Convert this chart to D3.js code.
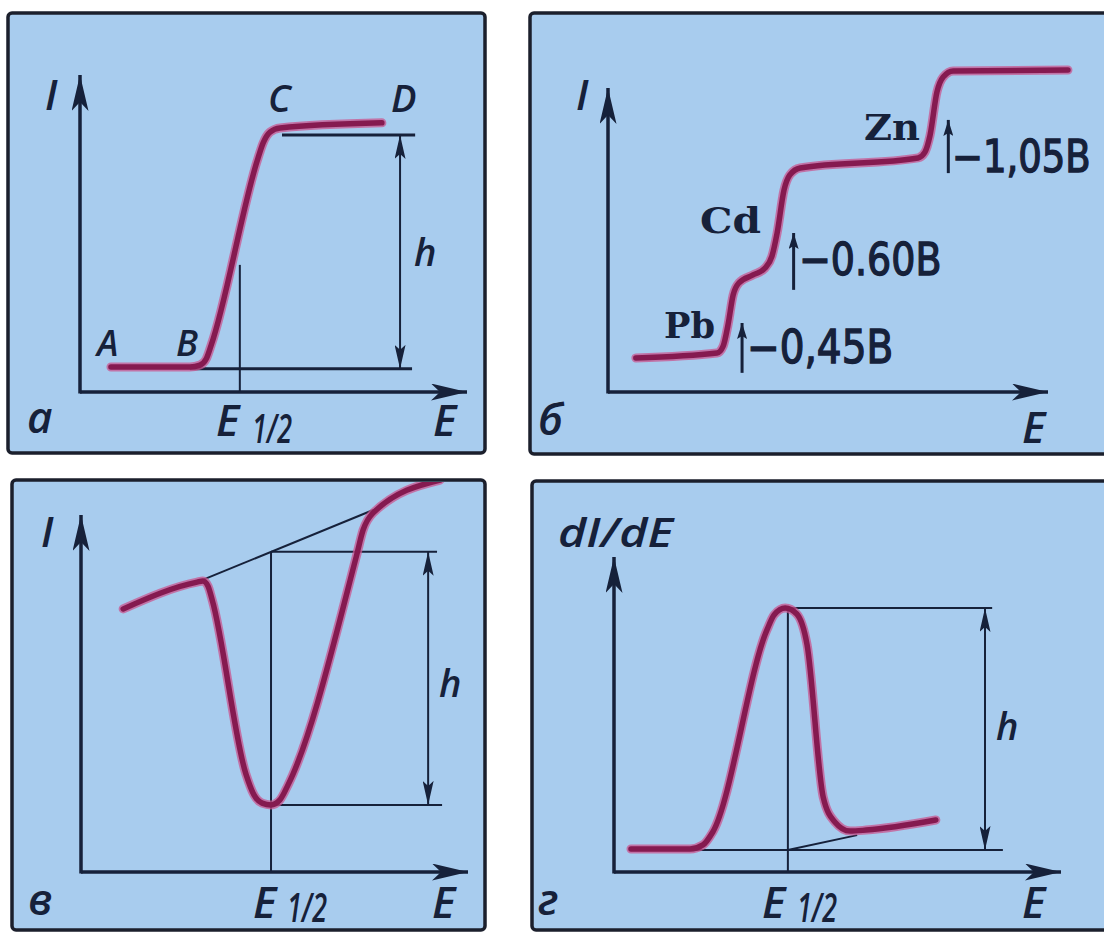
<!DOCTYPE html>
<html>
<head>
<meta charset="utf-8">
<script src="https://cdn.jsdelivr.net/npm/d3@7"></script>
<style>
  html, body { margin: 0; padding: 0; background: #ffffff; }
  svg { display: block; }
</style>
</head>
<body>
<svg id="fig" width="1104" height="935"></svg>
<script>
// ---------- а: polarographic wave A–B–C–D ----------
const waveE = [8.0, 28.4, 31.0, 32.6, 33.9, 46.0, 47.3, 49.1, 51.7, 78.0];
const waveI = [7.9, 7.9, 8.5, 10.4, 14.8, 73.8, 78.5, 82.0, 83.3, 84.9];
const waveLevels = [7.3, 81.1];                 // residual / limiting current
const waveLevelSpans = [[28.4, 85.8], [52.2, 86.6]];
const waveHalf = [41.3, 40.1];                  // E1/2 and the current it is read at
const waveHeightE = 82.7;                       // where h is measured

// ---------- б: polarogram of a Pb / Cd / Zn mixture (x in −E, volts) ----------
const mixV = [0.141, 0.377, 0.395, 0.409, 0.424, 0.441, 0.482, 0.517, 0.537, 0.552,
              0.572, 0.589, 0.619, 0.962, 0.982, 0.997, 1.017, 1.035, 1.064, 1.398];
const mixI = [11.2, 12.8, 15.1, 22.0, 31.9, 35.9, 38.5, 40.8, 44.7, 52.3,
              66.4, 71.4, 73.7, 77.0, 78.9, 84.5, 98.7, 103.6, 105.6, 105.9];
const ions = ["Pb", "Cd", "Zn"];
const halfWaveV = [0.45, 0.60, 1.05];
const halfWaveText = ["\u22120,45В", "\u22120.60В", "\u22121,05В"];
const halfWaveArrowI = [[6.3, 22.7], [33.6, 52.3], [72.0, 89.5]];

// ---------- в: AC polarogram (current minimum) ----------
const acE = [10.9, 30.0, 31.5, 32.8, 33.9, 42.6, 44.7, 46.8, 49.1, 51.4, 53.5, 71.1, 72.9, 75.5, 92.8];
const acI = [73.7, 81.2, 81.5, 80.1, 76.2, 27.5, 21.6, 19.3, 18.8, 20.2, 24.4, 88.2, 95.8, 100.6, 109.8];
const acTangentE = [30.0, 75.5];
const acTangentI = [81.2, 101.4];
const acHalfE = 49.1;
const acLineEnds = [92.0, 93.3];                // right ends of the upper / lower h lines
const acHeightE = 89.7;

// ---------- г: derivative polarogram dI/dE ----------
const derE = [3.8, 17.0, 19.9, 22.1, 34.2, 35.8, 38.3, 40.9, 43.2, 46.8, 49.4, 52.8, 56.4, 72.0];
const derI = [7.3, 7.3, 8.6, 12.7, 76.8, 81.6, 83.8, 81.9, 72.1, 23.8, 15.9, 13.0, 13.3, 16.5];
const derBase = 7.0, derPeak = 83.8, derHalfE = 38.9;
const derBaseSpan = [17.0, 87.0];
const derPeakEnd = 84.6;
const derTangentE = [38.9, 54.4];
const derTangentI = [7.0, 11.7];
const derHeightE = 83.0;

// ---------- drawing ----------
const INK = "#16213a";
const CURVE = "#851a50";
const HALO = "#c9568f";
const PANEL_BG = "#a8ccee";
const ITALIC = "'Open Sans', 'Noto Sans', 'DejaVu Sans', sans-serif";

const svg = d3.select("#fig");
const defs = svg.append("defs");

function arrowMarker(id, len, half, notch) {
  defs.append("marker")
    .attr("id", id)
    .attr("viewBox", `${-len} ${-half} ${len + 1} ${2 * half}`)
    .attr("refX", 0).attr("refY", 0)
    .attr("markerUnits", "userSpaceOnUse")
    .attr("markerWidth", len + 1).attr("markerHeight", 2 * half)
    .attr("orient", "auto-start-reverse")
    .append("path")
    .attr("d", `M0,0L${-len},${-half}L${-len + notch},0L${-len},${half}Z`)
    .attr("fill", INK);
}
arrowMarker("axisHead", 36, 8.5, 9);
arrowMarker("hHead", 24, 5.5, 5);
arrowMarker("vHead", 16, 5, 3);

const frames = [
  { id: "fa", x0: 8,   y0: 13,  x1: 485,  y1: 453 },
  { id: "fb", x0: 530, y0: 13,  x1: 1112, y1: 454 },
  { id: "fc", x0: 12,  y0: 480, x1: 485,  y1: 930 },
  { id: "fd", x0: 532, y0: 481, x1: 1112, y1: 930 }
];

frames.forEach(f => {
  defs.append("clipPath").attr("id", "clip-" + f.id)
    .append("rect")
    .attr("x", f.x0 + 2).attr("y", f.y0 + 2)
    .attr("width", f.x1 - f.x0 - 4).attr("height", f.y1 - f.y0 - 4);
  svg.append("rect")
    .attr("x", f.x0).attr("y", f.y0)
    .attr("width", f.x1 - f.x0).attr("height", f.y1 - f.y0)
    .attr("rx", 4)
    .attr("fill", PANEL_BG)
    .attr("stroke", "#1b1f2c").attr("stroke-width", 3.5);
});

const xa = d3.scaleLinear().domain([0, 100]).range([80, 467]);
const ya = d3.scaleLinear().domain([0, 100]).range([392, 75]);
const xb = d3.scaleLinear().domain([0.06, 1.34]).range([608, 1048]);
const yb = d3.scaleLinear().domain([0, 100]).range([392, 88]);
const xc = d3.scaleLinear().domain([0, 100]).range([81, 468]);
const yc = d3.scaleLinear().domain([0, 100]).range([872, 515]);
const xd = d3.scaleLinear().domain([0, 100]).range([614, 1061]);
const yd = d3.scaleLinear().domain([0, 100]).range([872, 557]);

function panel(frameId) {
  return svg.append("g").attr("clip-path", `url(#clip-${frameId})`);
}

function axes(g, x, y) {
  const [x0, x1] = x.range();
  const [y0, y1] = y.range();
  g.append("line").attr("x1", x0).attr("y1", y0).attr("x2", x1).attr("y2", y0)
    .attr("stroke", INK).attr("stroke-width", 3.5).attr("marker-end", "url(#axisHead)");
  g.append("line").attr("x1", x0).attr("y1", y0 + 1.5).attr("x2", x0).attr("y2", y1)
    .attr("stroke", INK).attr("stroke-width", 3.5).attr("marker-end", "url(#axisHead)");
}

function seg(g, x, y, a, b, width, heads) {
  const l = g.append("line")
    .attr("x1", x(a[0])).attr("y1", y(a[1]))
    .attr("x2", x(b[0])).attr("y2", y(b[1]))
    .attr("stroke", INK).attr("stroke-width", width);
  if (heads) {
    l.attr("marker-start", "url(#" + heads + ")").attr("marker-end", "url(#" + heads + ")");
  }
  return l;
}

function curve(g, x, y, xs, ys) {
  const pts = xs.map((v, i) => [v, ys[i]]);
  const line = d3.line().x(d => x(d[0])).y(d => y(d[1])).curve(d3.curveMonotoneX);
  g.append("path").attr("d", line(pts)).attr("fill", "none")
    .attr("stroke", HALO).attr("stroke-width", 9).attr("stroke-linecap", "round")
    .attr("stroke-linejoin", "round").attr("opacity", 0.75);
  g.append("path").attr("d", line(pts)).attr("fill", "none")
    .attr("stroke", CURVE).attr("stroke-width", 5.5).attr("stroke-linecap", "round")
    .attr("stroke-linejoin", "round");
}

// Text placed at (px, py); an optional vertical stretch keeps narrow, tall glyphs.
function label(txt, px, py, size, opts = {}) {
  const t = svg.append("text")
    .attr("font-family", opts.family || ITALIC)
    .attr("font-style", opts.upright ? "normal" : "italic")
    .attr("font-weight", opts.weight || 600)
    .attr("font-size", size)
    .attr("fill", INK)
    .text(txt);
  if (opts.sy) {
    t.attr("x", 0).attr("y", 0).attr("transform", `translate(${px},${py}) scale(1,${opts.sy})`);
  } else {
    t.attr("x", px).attr("y", py);
  }
  if (opts.len) t.attr("textLength", opts.len).attr("lengthAdjust", "spacingAndGlyphs");
  if (opts.stroke) t.attr("stroke", INK).attr("stroke-width", opts.stroke);
  return t;
}

// ----- а -----
{
  const g = panel("fa");
  axes(g, xa, ya);
  // residual and limiting current lines, h between them
  seg(g, xa, ya, [waveLevelSpans[0][0], waveLevels[0]], [waveLevelSpans[0][1], waveLevels[0]], 3);
  seg(g, xa, ya, [waveLevelSpans[1][0], waveLevels[1]], [waveLevelSpans[1][1], waveLevels[1]], 3);
  seg(g, xa, ya, [waveHeightE, waveLevels[0]], [waveHeightE, waveLevels[1]], 2, "hHead");
  seg(g, xa, ya, [waveHalf[0], 0], [waveHalf[0], waveHalf[1]], 2);
  curve(g, xa, ya, waveE, waveI);
}
label("I", 45, 110, 42);
label("A", 97, 356, 36);
label("B", 176, 356, 36);
label("C", 268, 112, 38);
label("D", 391, 112, 38);
label("h", 414, 266, 38);
label("а", 27, 433, 44);
label("E", 216, 436, 44);
label("1/2", 252, 443, 30, { len: 40, sy: 1.3 });
label("E", 433, 436, 44);

// ----- б -----
{
  const g = panel("fb");
  axes(g, xb, yb);
  curve(g, xb, yb, mixV, mixI);
  halfWaveV.forEach((v, i) => {
    g.append("line")
      .attr("x1", xb(v)).attr("y1", yb(halfWaveArrowI[i][0]))
      .attr("x2", xb(v)).attr("y2", yb(halfWaveArrowI[i][1]))
      .attr("stroke", INK).attr("stroke-width", 3)
      .attr("marker-end", "url(#vHead)");
  });
}
label("I", 576, 110, 42);
label("б", 538, 435, 44);
label("E", 1022, 443, 44);
const ionPos = [[664, 338, 51], [700, 233, 61], [864, 140, 56]];
ions.forEach((s, i) => {
  label(s, ionPos[i][0], ionPos[i][1], 35,
        { family: "'DejaVu Serif', 'Liberation Serif', serif", upright: true, weight: 700, len: ionPos[i][2] });
});
const voltPos = [[747, 363, 39], [799, 275, 38], [952, 172, 37]];
halfWaveText.forEach((s, i) => {
  label(s, voltPos[i][0], voltPos[i][1], voltPos[i][2],
        { family: "'DejaVu Sans', sans-serif", upright: true, weight: 400, stroke: 1.2, sy: 1.18 });
});

// ----- в -----
{
  const g = panel("fc");
  axes(g, xc, yc);
  const slope = (acTangentI[1] - acTangentI[0]) / (acTangentE[1] - acTangentE[0]);
  const topI = acTangentI[0] + slope * (acHalfE - acTangentE[0]);
  const bottomI = d3.min(acI);
  seg(g, xc, yc, [acTangentE[0], acTangentI[0]], [acTangentE[1], acTangentI[1]], 2);
  seg(g, xc, yc, [acHalfE, 0], [acHalfE, topI], 2);
  seg(g, xc, yc, [acHalfE, topI], [acLineEnds[0], topI], 2);
  seg(g, xc, yc, [acHalfE, bottomI], [acLineEnds[1], bottomI], 2);
  seg(g, xc, yc, [acHeightE, bottomI], [acHeightE, topI], 2, "hHead");
  curve(g, xc, yc, acE, acI);
}
label("I", 41, 547, 42);
label("h", 439, 697, 38);
label("в", 28, 915, 44);
label("E", 253, 918, 44);
label("1/2", 287, 922, 30, { len: 40, sy: 1.3 });
label("E", 432, 918, 44);

// ----- г -----
{
  const g = panel("fd");
  axes(g, xd, yd);
  seg(g, xd, yd, [derBaseSpan[0], derBase], [derBaseSpan[1], derBase], 2);
  seg(g, xd, yd, [derHalfE, 0], [derHalfE, derPeak], 2);
  seg(g, xd, yd, [derHalfE, derPeak], [derPeakEnd, derPeak], 2);
  seg(g, xd, yd, [derTangentE[0], derTangentI[0]], [derTangentE[1], derTangentI[1]], 2);
  seg(g, xd, yd, [derHeightE, derBase], [derHeightE, derPeak], 2, "hHead");
  curve(g, xd, yd, derE, derI);
}
label("dI/dE", 558, 547, 40, { len: 115 });
label("h", 996, 740, 38);
label("г", 538, 915, 44);
label("E", 762, 918, 44);
label("1/2", 797, 922, 30, { len: 40, sy: 1.3 });
label("E", 1022, 918, 44);
</script>
</body>
</html>
